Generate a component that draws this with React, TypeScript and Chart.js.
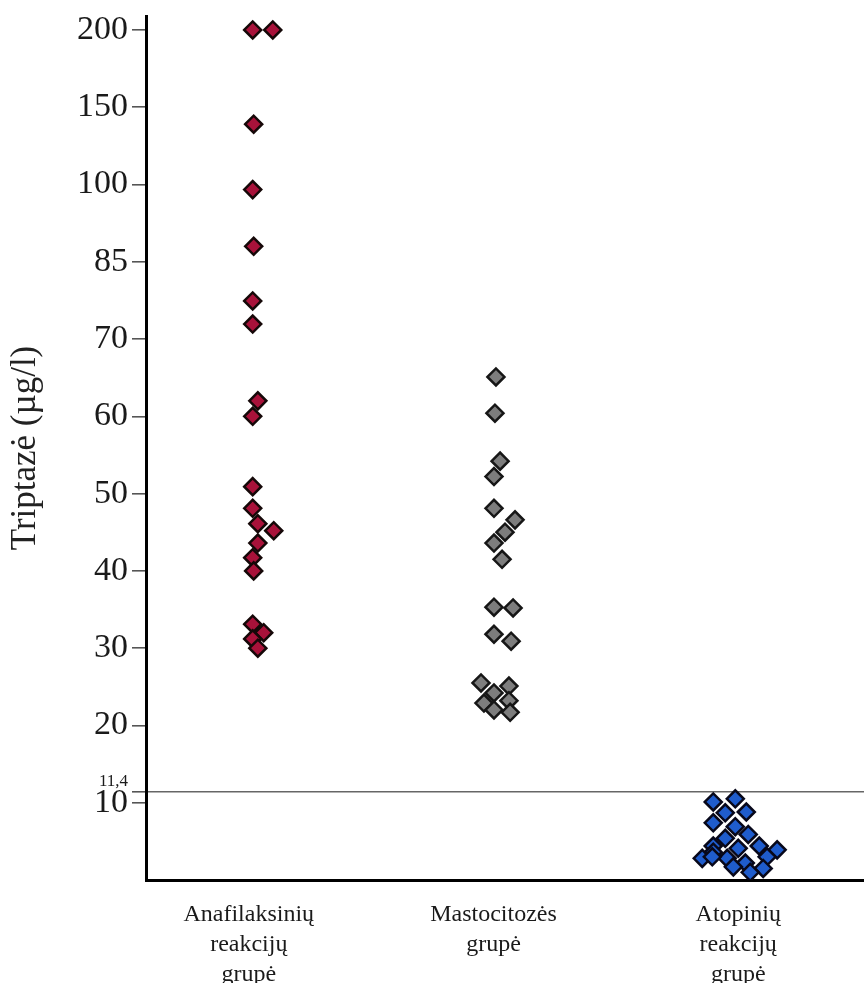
import React, { useEffect, useRef } from "react";
import { Chart, registerables } from "chart.js";

Chart.register(...registerables);

// Broken (piecewise) y axis: these tick values are evenly spaced on the axis
const yTickValues = [0, 10, 20, 30, 40, 50, 60, 70, 85, 100, 150, 200];
const yAxisMax = 11.18; // a little headroom above the 200 tick (axis units)

const thresholdValue = 11.4;
const thresholdLabel = "11,4";

const categories = [
  ["Anafilaksinių", "reakcijų", "grupė"],
  ["Mastocitozės", "grupė"],
  ["Atopinių", "reakcijų", "grupė"],
];
const yTitle = "Triptazė (µg/l)";

// Group 1: Anafilaksinių reakcijų grupė
const anafValues = [200, 200, 139, 99, 88, 77.4, 72.9, 62, 60, 50.9, 48.1, 46.1, 45.2, 43.6, 41.7, 40, 33.1, 32, 31.2, 30];
const anafJitter = [0.016, 0.098, 0.02, 0.016, 0.02, 0.016, 0.016, 0.037, 0.016, 0.016, 0.016, 0.037, 0.102, 0.037, 0.016, 0.02, 0.016, 0.061, 0.016, 0.037];

// Group 2: Mastocitozės grupė
const mastoValues = [65.1, 60.4, 54.2, 52.2, 48.1, 46.6, 45, 43.6, 41.5, 35.3, 35.2, 31.8, 30.9, 25.5, 25.1, 24.2, 23.2, 22.9, 22, 21.7];
const mastoJitter = [0.01, 0.006, 0.027, 0.002, 0.002, 0.088, 0.047, 0.002, 0.035, 0.002, 0.08, 0.002, 0.072, -0.051, 0.063, 0.002, 0.063, -0.039, 0.002, 0.068];

// Group 3: Atopinių reakcijų grupė
const atopValues = [10.1, 10.5, 8.7, 8.8, 7.4, 6.9, 5.9, 5.4, 4.4, 4.4, 4.1, 3.9, 3.6, 3.0, 2.8, 2.8, 3.0, 2.2, 1.7, 1.5, 1.0];
const atopJitter = [-0.102, -0.012, -0.053, 0.033, -0.102, -0.012, 0.041, -0.053, -0.102, 0.086, 0, 0.159, -0.102, 0.118, -0.147, -0.045, -0.106, 0.029, -0.02, 0.102, 0.049];

function toAxis(v: number): number {
  for (let i = 1; i < yTickValues.length; i++) {
    if (v <= yTickValues[i]) {
      return i - 1 + (v - yTickValues[i - 1]) / (yTickValues[i] - yTickValues[i - 1]);
    }
  }
  const n = yTickValues.length - 1;
  return n + (v - yTickValues[n]) / (yTickValues[n] - yTickValues[n - 1]);
}

function points(group: number, values: number[], jitter: number[]) {
  return values.map((v, i) => ({ x: group + jitter[i], y: toAxis(v) }));
}

const thresholdAxis = toAxis(thresholdValue);
const near = (a: number, b: number) => Math.abs(a - b) < 1e-6;

export default function App() {
  const ref = useRef<HTMLCanvasElement | null>(null);

  useEffect(() => {
    document.body.style.margin = "0";
    const canvas = ref.current!;
    const serif = "'Liberation Serif', 'Times New Roman', serif";
    const common = {
      pointStyle: "rectRot" as const,
      pointRadius: 8.5,
      pointHoverRadius: 8.5,
      pointBorderWidth: 2.5,
      showLine: false,
    };
    const chart = new Chart(canvas, {
      type: "scatter",
      data: {
        datasets: [
          {
            ...common,
            data: points(0, anafValues, anafJitter),
            backgroundColor: "#a8123a",
            borderColor: "#150808",
          },
          {
            ...common,
            data: points(1, mastoValues, mastoJitter),
            backgroundColor: "#7d7d7d",
            borderColor: "#161616",
          },
          {
            ...common,
            data: points(2, atopValues, atopJitter),
            backgroundColor: "#1f5ccc",
            borderColor: "#08081a",
          },
        ],
      },
      options: {
        animation: false,
        responsive: false,
        devicePixelRatio: 1,
        layout: { autoPadding: false, padding: { top: 16, right: 0, left: 0, bottom: 0 } },
        plugins: { legend: { display: false }, tooltip: { enabled: false } },
        scales: {
          x: {
            type: "linear",
            min: -0.42,
            max: 2.514,
            afterBuildTicks: (scale: any) => {
              scale.ticks = categories.map((_, i) => ({ value: i }));
            },
            afterFit: (scale: any) => {
              scale.height = 103;
              scale.paddingLeft = 0;
              scale.paddingRight = 0;
            },
            grid: { display: false },
            border: { display: true, color: "#000", width: 3 },
            ticks: {
              autoSkip: false,
              maxRotation: 0,
              padding: 12,
              color: "#1a1a1a",
              font: { family: serif, size: 24, lineHeight: 1.25 },
              callback: (value: any) => categories[Math.round(Number(value))] ?? "",
            },
          },
          y: {
            type: "linear",
            min: 0,
            max: yAxisMax,
            afterBuildTicks: (scale: any) => {
              const t = yTickValues.map((_, i) => ({ value: i }));
              t.splice(2, 0, { value: thresholdAxis });
              scale.ticks = t;
            },
            afterFit: (scale: any) => {
              scale.width = 146;
              scale.paddingTop = 0;
              scale.paddingBottom = 0;
            },
            border: { display: true, color: "#000", width: 3 },
            grid: {
              drawOnChartArea: true,
              tickLength: 14,
              color: (ctx: any) =>
                ctx.tick && near(ctx.tick.value, thresholdAxis) ? "#666" : "rgba(0,0,0,0)",
              tickColor: (ctx: any) =>
                ctx.tick && near(ctx.tick.value, 0) ? "rgba(0,0,0,0)" : "#555",
              lineWidth: 1.6,
            },
            title: {
              display: true,
              text: yTitle,
              color: "#222",
              font: { family: serif, size: 35, lineHeight: 1.2 },
              padding: { top: 5, bottom: 0 },
            },
            ticks: {
              autoSkip: false,
              padding: 4,
              color: "#1a1a1a",
              font: (ctx: any) =>
                ctx.tick && near(ctx.tick.value, thresholdAxis)
                  ? { family: serif, size: 17, lineHeight: 1.2 }
                  : { family: serif, size: 34, lineHeight: 1.0 },
              callback: (value: any) => {
                const v = Number(value);
                if (near(v, thresholdAxis)) return [thresholdLabel, ""];
                const i = Math.round(v);
                if (i === 0 || !near(v, i)) return "";
                return String(yTickValues[i]);
              },
            },
          },
        },
      },
    });
    return () => chart.destroy();
  }, []);

  return (
    <div style={{ width: 864, height: 983, background: "#fff" }}>
      <canvas ref={ref} width={864} height={983} style={{ display: "block" }} />
    </div>
  );
}
